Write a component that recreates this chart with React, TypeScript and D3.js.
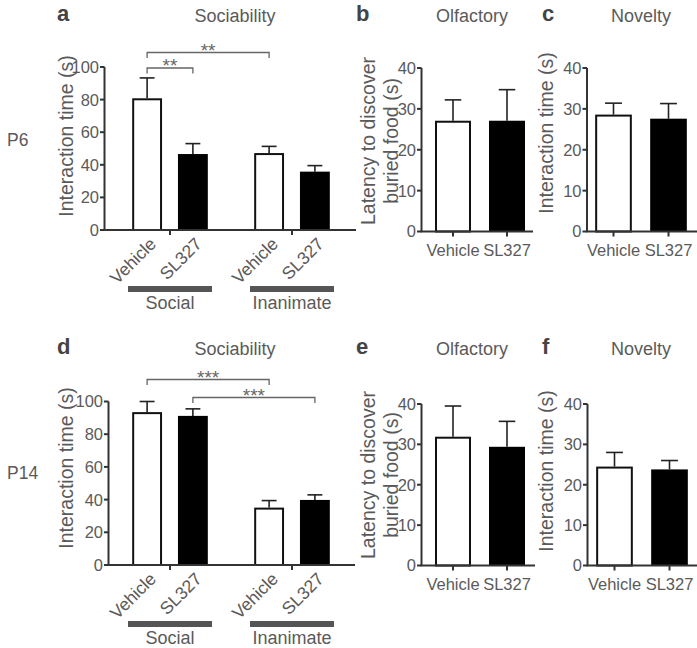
import React from "react";
import * as d3 from "d3";

// ---------- data ----------
const treatments = ["Vehicle", "SL327"];
const stimulusGroups = ["Social", "Inanimate"];
const sociabilityTicks = [0, 20, 40, 60, 80, 100];
const smallTicks = [0, 10, 20, 30, 40];

// P6 (top row)
const p6SocialMean = [80.8, 46.6];
const p6SocialSem = [12.5, 6.4];
const p6InanimateMean = [47.2, 35.8];
const p6InanimateSem = [4.1, 3.7];
const p6OlfactoryMean = [27.1, 27.1];
const p6OlfactorySem = [5.1, 7.6];
const p6NoveltyMean = [28.6, 27.6];
const p6NoveltySem = [2.8, 3.7];
const p6Comparisons = [
  { a: ["Social", "Vehicle"], b: ["Social", "SL327"], label: "**" },
  { a: ["Social", "Vehicle"], b: ["Inanimate", "Vehicle"], label: "**" },
];

// P14 (bottom row)
const p14SocialMean = [93.5, 91.2];
const p14SocialSem = [6.5, 4.3];
const p14InanimateMean = [35.1, 39.8];
const p14InanimateSem = [4.3, 3.1];
const p14OlfactoryMean = [31.9, 29.4];
const p14OlfactorySem = [7.6, 6.3];
const p14NoveltyMean = [24.5, 23.8];
const p14NoveltySem = [3.5, 2.2];
const p14Comparisons = [
  { a: ["Social", "Vehicle"], b: ["Inanimate", "Vehicle"], label: "***" },
  { a: ["Social", "SL327"], b: ["Inanimate", "SL327"], label: "***" },
];

// ---------- style ----------
const FONT = "'Liberation Sans', Arial, Helvetica, sans-serif";
const TEXT = "#5a5a5a";
const AXIS = "#333";
const BAR_STROKE = "#111";
const GROUP_BAR = "#555";
const BRACKET = "#666";

function ErrorBar({ cx, yTop, yBar, cap }) {
  return (
    <g stroke="#222" strokeWidth={1.6}>
      <line x1={cx} x2={cx} y1={yBar} y2={yTop} />
      <line x1={cx - cap / 2} x2={cx + cap / 2} y1={yTop} y2={yTop} />
    </g>
  );
}

function YAxis({ x, y, ticks, fontSize }) {
  const [lo, hi] = y.domain();
  return (
    <g>
      <line x1={x} x2={x} y1={y(lo)} y2={y(hi)} stroke={AXIS} strokeWidth={2} />
      {ticks.map((t) => (
        <g key={t}>
          <line x1={x - 4.5} x2={x} y1={y(t)} y2={y(t)} stroke={AXIS} strokeWidth={2} />
          <text
            x={x - 5.5}
            y={y(t)}
            dy="0.36em"
            textAnchor="end"
            fontSize={fontSize}
            fill={TEXT}
            fontFamily={FONT}
          >
            {t}
          </text>
        </g>
      ))}
    </g>
  );
}

function SociabilityPanel({
  axisX, axisEnd, top, bottom, groupRange,
  socialMean, socialSem, inanimateMean, inanimateSem,
  comparisons, bracketYs, labelX, labelY,
}) {
  const y = d3.scaleLinear().domain([0, 100]).range([bottom, top]);
  const xg = d3.scaleBand().domain(stimulusGroups).range(groupRange);
  const bw = xg.bandwidth();
  const xt = d3.scaleBand().domain(treatments).range([bw * 0.19, bw * 0.81]).paddingInner(16 / 46);
  const means = { Social: socialMean, Inanimate: inanimateMean };
  const sems = { Social: socialSem, Inanimate: inanimateSem };
  const cx = (g, t) => xg(g) + xt(t) + xt.bandwidth() / 2;
  return (
    <g>
      {stimulusGroups.map((g) =>
        treatments.map((t, i) => {
          const m = means[g][i];
          const s = sems[g][i];
          const x = xg(g) + xt(t);
          const filled = t === "SL327";
          return (
            <g key={g + t}>
              <ErrorBar cx={cx(g, t)} yTop={y(m + s)} yBar={y(m)} cap={xt.bandwidth() * 0.5} />
              <rect
                x={filled ? x : x + 1}
                y={filled ? y(m) : y(m) + 1}
                width={filled ? xt.bandwidth() : xt.bandwidth() - 2}
                height={filled ? y(0) - y(m) : y(0) - y(m) - 1}
                fill={filled ? "#000" : "#fff"}
                stroke={filled ? "none" : BAR_STROKE}
                strokeWidth={2}
              />
            </g>
          );
        })
      )}
      <YAxis x={axisX} y={y} ticks={sociabilityTicks} fontSize={16.5} />
      <line x1={axisX - 1} x2={axisEnd} y1={bottom} y2={bottom} stroke={AXIS} strokeWidth={2} />
      {stimulusGroups.map((g) => {
        const gc = xg(g) + bw / 2;
        return (
          <g key={g}>
            <line x1={gc} x2={gc} y1={bottom} y2={bottom + 5} stroke={AXIS} strokeWidth={2} />
            {treatments.map((t) => (
              <text
                key={t}
                transform={`translate(${cx(g, t) + 10},${bottom + 15}) rotate(-45)`}
                textAnchor="end"
                fontSize={17.5}
                fill={TEXT}
                fontFamily={FONT}
              >
                {t}
              </text>
            ))}
            <rect x={gc - 42} y={bottom + 56} width={84} height={6} fill={GROUP_BAR} />
            <text x={gc} y={bottom + 79} textAnchor="middle" fontSize={18} fill={TEXT} fontFamily={FONT}>
              {g}
            </text>
          </g>
        );
      })}
      {comparisons.map((c, i) => {
        const x1 = cx(c.a[0], c.a[1]);
        const x2 = cx(c.b[0], c.b[1]);
        const by = bracketYs[i];
        return (
          <g key={i}>
            <path
              d={`M${x1},${by + 5.5}V${by}H${x2}V${by + 5.5}`}
              fill="none"
              stroke={BRACKET}
              strokeWidth={1.3}
            />
            <text
              x={(x1 + x2) / 2}
              y={by + 4}
              textAnchor="middle"
              fontSize={19}
              fill={BRACKET}
              fontFamily={FONT}
            >
              {c.label}
            </text>
          </g>
        );
      })}
      <text
        transform={`translate(${labelX},${labelY}) rotate(-90)`}
        textAnchor="middle"
        fontSize={19.5}
        fill={TEXT}
        fontFamily={FONT}
      >
        Interaction time (s)
      </text>
    </g>
  );
}

function PairPanel({ axisX, axisEnd, top, bottom, bandRange, mean, sem, labelLines, labelXs, labelY }) {
  const y = d3.scaleLinear().domain([0, 40]).range([bottom, top]);
  const x = d3.scaleBand().domain(treatments).range(bandRange).paddingInner(1 / 3).paddingOuter(1 / 6);
  return (
    <g>
      {treatments.map((t, i) => {
        const m = mean[i];
        const s = sem[i];
        const filled = t === "SL327";
        const c = x(t) + x.bandwidth() / 2;
        return (
          <g key={t}>
            <ErrorBar cx={c} yTop={y(m + s)} yBar={y(m)} cap={x.bandwidth() * 0.46} />
            <rect
              x={filled ? x(t) : x(t) + 1}
              y={filled ? y(m) : y(m) + 1}
              width={filled ? x.bandwidth() : x.bandwidth() - 2}
              height={filled ? y(0) - y(m) : y(0) - y(m) - 1}
              fill={filled ? "#000" : "#fff"}
              stroke={filled ? "none" : BAR_STROKE}
              strokeWidth={2}
            />
            <line x1={c} x2={c} y1={bottom} y2={bottom + 5} stroke={AXIS} strokeWidth={2} />
            <text x={c} y={bottom + 24} textAnchor="middle" fontSize={16.5} fill={TEXT} fontFamily={FONT}>
              {t}
            </text>
          </g>
        );
      })}
      <YAxis x={axisX} y={y} ticks={smallTicks} fontSize={16.5} />
      <line x1={axisX - 1} x2={axisEnd} y1={bottom} y2={bottom} stroke={AXIS} strokeWidth={2} />
      {labelLines.map((l, i) => (
        <text
          key={i}
          transform={`translate(${labelXs[i]},${labelY}) rotate(-90)`}
          textAnchor="middle"
          fontSize={19.5}
          fill={TEXT}
          fontFamily={FONT}
        >
          {l}
        </text>
      ))}
    </g>
  );
}

function Heading({ x, y, letter, title, titleX }) {
  return (
    <g fontFamily={FONT}>
      <text x={x} y={y} fontSize={22} fontWeight="bold" fill="#444">
        {letter}
      </text>
      <text x={titleX} y={y + 1} fontSize={18} textAnchor="middle" fill={TEXT}>
        {title}
      </text>
    </g>
  );
}

export default function App() {
  return (
    <svg
      width={697}
      height={648}
      style={{ position: "absolute", left: 0, top: 0, background: "#fff" }}
    >
      <rect width={697} height={648} fill="#fff" />
      {/* row labels */}
      <text x={7} y={146} fontSize={17.5} fill={TEXT} fontFamily={FONT}>P6</text>
      <text x={7} y={479} fontSize={17.5} fill={TEXT} fontFamily={FONT}>P14</text>

      {/* top row */}
      <Heading x={57} y={21} letter="a" title="Sociability" titleX={235} />
      <SociabilityPanel
        axisX={104.5} axisEnd={356} top={67} bottom={230} groupRange={[109, 353]}
        socialMean={p6SocialMean} socialSem={p6SocialSem}
        inanimateMean={p6InanimateMean} inanimateSem={p6InanimateSem}
        comparisons={p6Comparisons} bracketYs={[68, 52.5]}
        labelX={73} labelY={136}
      />
      <Heading x={356} y={21} letter="b" title="Olfactory" titleX={472} />
      <PairPanel
        axisX={421.5} axisEnd={533} top={68} bottom={231.5} bandRange={[426, 534]}
        mean={p6OlfactoryMean} sem={p6OlfactorySem}
        labelLines={["Latency to discover", "buried food (s)"]} labelXs={[375, 398]} labelY={141}
      />
      <Heading x={542} y={21} letter="c" title="Novelty" titleX={641} />
      <PairPanel
        axisX={587} axisEnd={697} top={68} bottom={231.5} bandRange={[586, 696]}
        mean={p6NoveltyMean} sem={p6NoveltySem}
        labelLines={["Interaction time (s)"]} labelXs={[553]} labelY={133}
      />

      {/* bottom row */}
      <Heading x={57} y={354} letter="d" title="Sociability" titleX={235} />
      <SociabilityPanel
        axisX={108.5} axisEnd={355} top={401.5} bottom={565} groupRange={[109, 353]}
        socialMean={p14SocialMean} socialSem={p14SocialSem}
        inanimateMean={p14InanimateMean} inanimateSem={p14InanimateSem}
        comparisons={p14Comparisons} bracketYs={[379.5, 397.5]}
        labelX={73} labelY={468}
      />
      <Heading x={356} y={354} letter="e" title="Olfactory" titleX={472} />
      <PairPanel
        axisX={421.5} axisEnd={535} top={404} bottom={565.5} bandRange={[426, 534]}
        mean={p14OlfactoryMean} sem={p14OlfactorySem}
        labelLines={["Latency to discover", "buried food (s)"]} labelXs={[375, 398]} labelY={475}
      />
      <Heading x={542} y={354} letter="f" title="Novelty" titleX={641} />
      <PairPanel
        axisX={587.5} axisEnd={697} top={404} bottom={565.5} bandRange={[587, 697]}
        mean={p14NoveltyMean} sem={p14NoveltySem}
        labelLines={["Interaction time (s)"]} labelXs={[553]} labelY={471}
      />
    </svg>
  );
}
